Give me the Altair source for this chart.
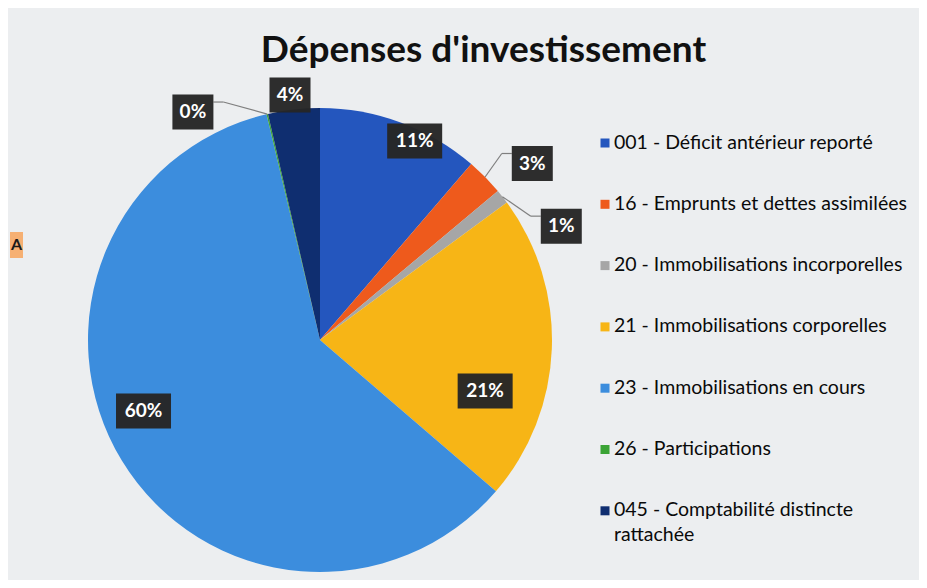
import altair as alt
import pandas as pd

# ---- data ----
categories = [
    "001 - Déficit antérieur reporté",
    "16 - Emprunts et dettes assimilées",
    "20 - Immobilisations incorporelles",
    "21 - Immobilisations corporelles",
    "23 - Immobilisations en cours",
    "26 - Participations",
    "045 - Comptabilité distincte rattachée",
]
shares = [11.3, 2.6, 1.0, 21.4, 60.0, 0.1, 3.6]
legend_labels = [
    "001 - Déficit antérieur reporté",
    "16 - Emprunts et dettes assimilées",
    "20 - Immobilisations incorporelles",
    "21 - Immobilisations corporelles",
    "23 - Immobilisations en cours",
    "26 - Participations",
    "045 - Comptabilité distincte\nrattachée",
]
title_text = "Dépenses d'investissement"
marker_text = "A"

# ---- styling ----
colors = ["#2456BE", "#EE5A1C", "#A6A6A6", "#F7B516", "#3C8DDD", "#3AA335", "#0F2E70"]
# Excel "best fit" label placement: angular nudge (deg) and radius fraction
label_dangle = [5.1, 4.9, 12.9, 15.0, 9.4, -16.0, -0.5]
label_rfrac = [0.95, 1.19, 1.15, 0.745, 0.82, 1.125, 1.064]

W, H = 911, 572
CX, CY = 312, 332          # pie centre inside the chart
R = 232                    # pie radius (px)

df = pd.DataFrame({
    "cat": categories,
    "share": shares,
    "idx": list(range(len(categories))),
    "lab": legend_labels,
    "dangle": label_dangle,
    "rfrac": label_rfrac,
})

xs = alt.Scale(domain=[-CX, W - CX], nice=False, zero=False)
ys = alt.Scale(domain=[-(H - CY), CY], nice=False, zero=False)
color = alt.Color("cat:N", scale=alt.Scale(domain=categories, range=colors), legend=None)

base = alt.Chart(df)

pie = base.mark_arc(radius=R, stroke=None).encode(
    theta=alt.Theta("share:Q", stack=True),
    order=alt.Order("idx:Q", sort="ascending"),
    color=color,
    x=alt.X(datum=0, type="quantitative", scale=xs, axis=None),
    y=alt.Y(datum=0, type="quantitative", scale=ys, axis=None),
)

lab = base.transform_joinaggregate(
    total="sum(share)"
).transform_window(
    cum="sum(share)", sort=[alt.SortField("idx")], frame=[None, 0]
).transform_calculate(
    m0="2*PI*(datum.cum - datum.share/2)/datum.total",
    m="datum.m0 + datum.dangle*PI/180",
    ax=f"{R}*sin(datum.m0)",
    ay=f"{R}*cos(datum.m0)",
    lx=f"{R}*datum.rfrac*sin(datum.m)",
    ly=f"{R}*datum.rfrac*cos(datum.m)",
    pct="format(datum.share/datum.total, '.0%')",
    hw="length(datum.pct)*7 + 6.5",
    bx1="datum.lx - datum.hw",
    bx2="datum.lx + datum.hw",
    by1="datum.ly - 17.5",
    by2="datum.ly + 17.5",
    side="datum.ax > datum.lx ? 1 : -1",
    ex="datum.lx + datum.side*(datum.hw + 10)",
    ey="datum.ly + 10",
    edx="datum.lx + datum.side*datum.hw",
)

outside = lab.transform_filter("datum.rfrac > 1.08")

lead1 = outside.mark_rule(color="#7F7F7F", strokeWidth=1.2).encode(
    x=alt.X("ax:Q", scale=xs, axis=None), y=alt.Y("ay:Q", scale=ys, axis=None),
    x2="ex:Q", y2="ey:Q",
)
lead2 = outside.mark_rule(color="#7F7F7F", strokeWidth=1.2).encode(
    x=alt.X("ex:Q", scale=xs, axis=None), y=alt.Y("ey:Q", scale=ys, axis=None),
    x2="edx:Q", y2="ey:Q",
)

boxes = lab.mark_rect(color="#262626", opacity=0.97).encode(
    x=alt.X("bx1:Q", scale=xs, axis=None), x2="bx2:Q",
    y=alt.Y("by1:Q", scale=ys, axis=None), y2="by2:Q",
)

texts = lab.mark_text(font="Lato", fontSize=19, fontWeight="bold", color="white",
                      align="center", baseline="middle").encode(
    x=alt.X("lx:Q", scale=xs, axis=None), y=alt.Y("ly:Q", scale=ys, axis=None),
    text="pct:N",
)

# ---- legend (right) ----
leg = base.transform_calculate(
    ly="197 - 61.3*datum.idx",
    sx="285",
    tx="294",
)
leg_sw = leg.mark_square(size=81, opacity=1, filled=True).encode(
    x=alt.X("sx:Q", scale=xs, axis=None), y=alt.Y("ly:Q", scale=ys, axis=None),
    color=color,
)
leg_tx = leg.mark_text(font="Lato", fontSize=19.5, color="#0A0A0A", align="left",
                       baseline="top", dy=-9.5, lineBreak="\n", lineHeight=25).encode(
    x=alt.X("tx:Q", scale=xs, axis=None), y=alt.Y("ly:Q", scale=ys, axis=None),
    text="lab:N",
)

title = alt.Chart(pd.DataFrame({"t": [title_text]})).mark_text(
    font="Lato", fontSize=37, fontWeight="bold", color="#111111",
    align="center", baseline="alphabetic",
).encode(x=alt.value(475.5), y=alt.value(54), text="t:N")

# small orange "A" comment tag at the left edge of the scan
tag_df = pd.DataFrame({"t": [marker_text]})
tag_box = alt.Chart(tag_df).mark_rect(color="#F6B073").encode(
    x=alt.value(2), x2=alt.value(15), y=alt.value(224), y2=alt.value(250)
)
tag_txt = alt.Chart(tag_df).mark_text(
    font="Lato", fontSize=16, fontWeight="bold", color="#1A1A1A",
    align="center", baseline="middle"
).encode(x=alt.value(8.5), y=alt.value(237), text="t:N")

chart = alt.layer(pie, lead1, lead2, boxes, texts, leg_sw, leg_tx, title,
                  tag_box, tag_txt).properties(
    width=W, height=H, padding=0, autosize="none", background="#ECEEF0",
).configure_view(stroke=None)

chart.save("out.html", embed_options={"renderer": "svg", "actions": False})
